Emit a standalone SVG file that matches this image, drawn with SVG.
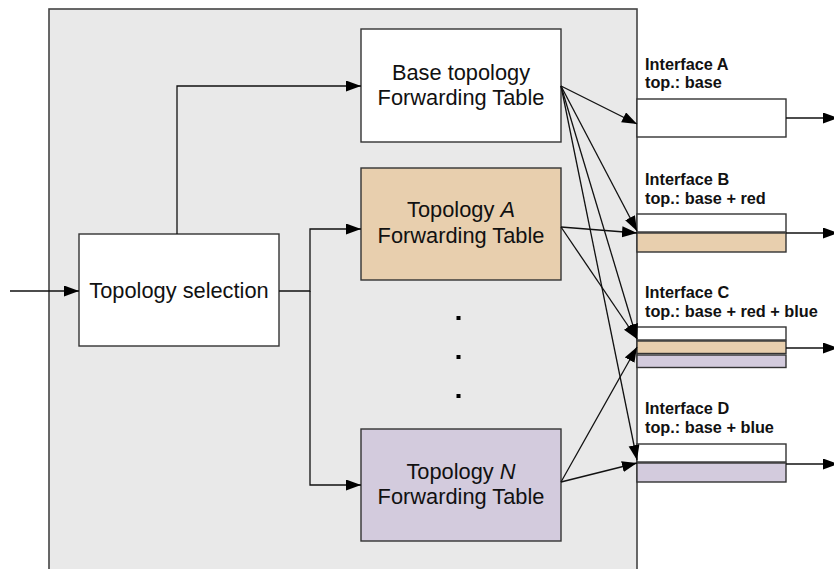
<svg xmlns="http://www.w3.org/2000/svg" width="834" height="569" viewBox="0 0 834 569">
  <style>
    .box { stroke: #333; stroke-width: 1.4; }
    .white { fill: #ffffff; }
    .tan { fill: #e8cfae; }
    .lilac { fill: #d3cbdd; }
    .label { font-family: "Liberation Sans", Arial, sans-serif; font-size: 21.8px; fill: #111; text-anchor: middle; }
    .iface { font-family: "Liberation Sans", Arial, sans-serif; font-size: 16.3px; font-weight: bold; fill: #111; }
    .wire { fill: none; stroke: #111; stroke-width: 1.3; marker-end: url(#arrow); }
  </style>
  <defs>
    <marker id="arrow" markerUnits="userSpaceOnUse" markerWidth="16" markerHeight="12" refX="15" refY="5.5" orient="auto">
      <path d="M0,0 L15,5.5 L0,11 z" fill="#000"/>
    </marker>
  </defs>

  <rect width="834" height="569" fill="#ffffff"/>

  <!-- router enclosure -->
  <g id="router">
    <rect x="49" y="9" width="588" height="580" fill="#e9e9e9" stroke="#444" stroke-width="1.6"/>
  </g>

  <!-- processing blocks -->
  <g id="topology-selection">
    <rect class="box white" x="79" y="234" width="200" height="112"/>
    <text class="label" x="179" y="298">Topology selection</text>
  </g>

  <g id="base-table">
    <rect class="box white" x="361" y="29" width="200" height="113"/>
    <text class="label" x="461" y="80">Base topology</text>
    <text class="label" x="461" y="105">Forwarding Table</text>
  </g>

  <g id="table-a">
    <rect class="box tan" x="361" y="168" width="200" height="112"/>
    <text class="label" x="461" y="217">Topology <tspan font-style="italic">A</tspan></text>
    <text class="label" x="461" y="243">Forwarding Table</text>
  </g>

  <g id="ellipsis">
    <rect x="456.5" y="316" width="4" height="4" fill="#000"/>
    <rect x="456.5" y="355" width="4" height="4" fill="#000"/>
    <rect x="456.5" y="394" width="4" height="4" fill="#000"/>
  </g>

  <g id="table-n">
    <rect class="box lilac" x="361" y="429" width="200" height="112"/>
    <text class="label" x="461" y="479">Topology <tspan font-style="italic">N</tspan></text>
    <text class="label" x="461" y="504">Forwarding Table</text>
  </g>

  <!-- outgoing interfaces -->
  <g id="interface-a">
    <text class="iface" x="645" y="70">Interface A</text>
    <text class="iface" x="645" y="88">top.: base</text>
    <rect class="box white" x="637" y="99" width="149" height="38"/>
  </g>

  <g id="interface-b">
    <text class="iface" x="645" y="185">Interface B</text>
    <text class="iface" x="645" y="204">top.: base + red</text>
    <rect class="box white" x="637" y="214" width="149" height="18"/>
    <rect class="box tan" x="637" y="233" width="149" height="19"/>
  </g>

  <g id="interface-c">
    <text class="iface" x="645" y="298">Interface C</text>
    <text class="iface" x="645" y="317">top.: base + red + blue</text>
    <rect class="box white" x="637" y="327" width="149" height="13"/>
    <rect class="box tan" x="637" y="341" width="149" height="12.5"/>
    <rect class="box lilac" x="637" y="355" width="149" height="12.5"/>
  </g>

  <g id="interface-d">
    <text class="iface" x="645" y="414">Interface D</text>
    <text class="iface" x="645" y="433">top.: base + blue</text>
    <rect class="box white" x="637" y="444" width="149" height="18"/>
    <rect class="box lilac" x="637" y="463" width="149" height="19"/>
  </g>

  <!-- connectors -->
  <g id="connectors">
    <path class="wire" d="M10,291 L79,291"/>
    <path class="wire" d="M177,234 L177,86 L361,86"/>
    <path class="wire" d="M279,291 L310,291 L310,229 L361,229"/>
    <path class="wire" d="M310,291 L310,485 L361,485"/>

    <path class="wire" d="M561,86 L637,124"/>
    <path class="wire" d="M561,86 L637,231"/>
    <path class="wire" d="M561,86 L637,339"/>
    <path class="wire" d="M561,86 L637,460"/>

    <path class="wire" d="M561,227 L637,233"/>
    <path class="wire" d="M561,227 L637,339"/>

    <path class="wire" d="M561,482 L637,347"/>
    <path class="wire" d="M561,482 L637,463"/>

    <path class="wire" d="M786,118 L838,118"/>
    <path class="wire" d="M786,233 L838,233"/>
    <path class="wire" d="M786,348 L838,348"/>
    <path class="wire" d="M786,464 L838,464"/>
  </g>
</svg>
